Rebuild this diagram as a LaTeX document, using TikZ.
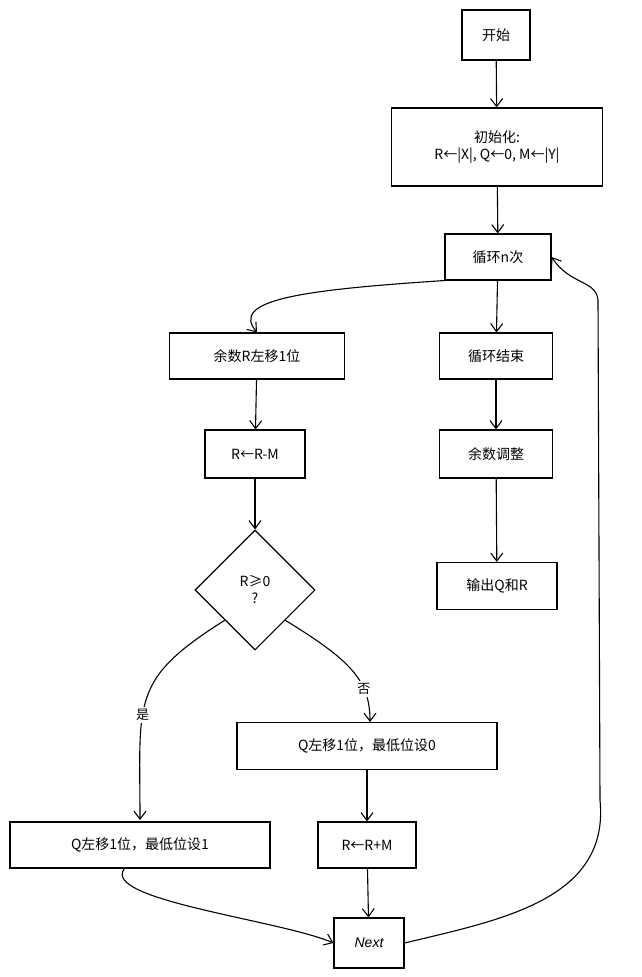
\documentclass[tikz,border=0pt]{standalone}
\usepackage{fontspec}
\setmainfont{Noto Sans CJK SC}
\newfontfamily\latn{Liberation Sans}
\usetikzlibrary{shapes.geometric,arrows.meta}
\begin{document}
\begin{tikzpicture}[x=1pt,y=-1pt,
  box/.style={draw,line width=1.1pt,minimum height=46pt,inner sep=2pt,font=\fontsize{14}{17}\selectfont},
  arr/.style={line width=1.1pt,-{Straight Barb[length=8pt,width=12pt]}},
  lab/.style={font=\fontsize{13}{15}\selectfont,fill=white,inner sep=2pt}]
\useasboundingbox (0,0) rectangle (641,977);
\node[box,minimum width=68pt,minimum height=50pt] (start) at (496,35) {开始};
\node[box,minimum width=211pt,minimum height=78pt,align=center] (init) at (497,147) {初始化:\\ R←|X|, Q←0, M←|Y|};
\node[box,minimum width=106pt] (loop) at (498,257) {循环n次};
\node[box,minimum width=175pt] (shl) at (257,356) {余数R左移1位};
\node[box,minimum width=100pt,minimum height=48pt] (sub) at (255,454) {R←R-M};
\node[draw,line width=1.1pt,diamond,minimum width=120pt,minimum height=120pt,align=center,inner sep=0pt,font=\fontsize{14}{17}\selectfont] (dec) at (255,590) {R≥0\\?};
\node[box,minimum width=260pt,minimum height=47pt] (q0) at (367,746) {Q左移1位，最低位设0};
\node[box,minimum width=260pt] (q1) at (140,845) {Q左移1位，最低位设1};
\node[box,minimum width=98pt] (add) at (367,845) {R←R+M};
\node[box,minimum width=70pt,minimum height=50pt,font=\latn\itshape\fontsize{14}{17}\selectfont] (next) at (369,943) {Next};
\node[box,minimum width=113pt] (end) at (496,356) {循环结束};
\node[box,minimum width=113pt,minimum height=48pt] (adj) at (496,454) {余数调整};
\node[box,minimum width=120pt,minimum height=47pt] (out) at (497,586) {输出Q和R};
\coordinate (lr) at (598,300);
\draw[arr] (start) -- (init);
\draw[arr] (init) -- (loop);
\draw[arr] (loop) -- (end);
\draw[arr] (end) -- (adj);
\draw[arr] (adj) -- (out);
\draw[arr] (loop.south west) .. controls (300,290) and (230,300) .. (shl.north);
\draw[arr] (shl) -- (sub);
\draw[arr] (sub) -- (dec);
\draw[arr] (dec.south west) .. controls (130,680) and (140,700) .. (140,820) node[lab,pos=0.6] {是};
\draw[arr] (dec.south east) .. controls (350,660) and (370,680) .. (370,722) node[lab,pos=0.7] {否};
\draw[arr] (q0) -- (add);
\draw[arr] (add) -- (next);
\draw[arr] (q1.south west) ++(115,0) .. controls (100,900) and (280,920) .. (next.west);
\draw[arr] (next.east) .. controls (500,920) and (610,900) .. (600,800) -- (lr) .. controls (596,280) and (570,285) .. (loop.east);
\end{tikzpicture}
\end{document}
